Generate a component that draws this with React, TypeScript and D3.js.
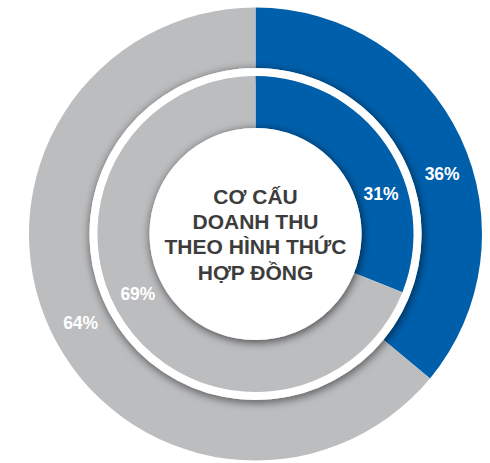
import React from "react";
import * as d3 from "d3";

const categories = ["Blue", "Gray"];
const outerValues = [36, 64];
const innerValues = [31, 69];
const colors = ["#005fab", "#bcbdbf"];
const titleLines = ["CƠ CẤU", "DOANH THU", "THEO HÌNH THỨC", "HỢP ĐỒNG"];
// label angle (degrees clockwise from top) per category
const labelAngles = [72, 243];

const W = 490;
const H = 463;
const cx = 255.5;
const cy = 234;
const R_OUT = 226.5;
const R_OUT_IN = 166;
const R_IN = 158;
const R_CENTER = 106;

export default function App() {
  const pie = d3.pie<number>().sort(null).value((d) => d);
  const outerArcs = pie(outerValues);
  const innerArcs = pie(innerValues);
  const outerArc = d3.arc<d3.PieArcDatum<number>>().innerRadius(R_OUT_IN).outerRadius(R_OUT);
  const innerArc = d3.arc<d3.PieArcDatum<number>>().innerRadius(R_CENTER).outerRadius(R_IN);
  const ring = d3.arc()({ innerRadius: R_IN, outerRadius: R_OUT_IN, startAngle: 0, endAngle: 2 * Math.PI }) as string;

  const polar = (deg: number, r: number) => {
    const a = (deg * Math.PI) / 180;
    return [r * Math.sin(a), -r * Math.cos(a)];
  };
  const outerMid = (R_OUT + R_OUT_IN) / 2;
  const innerMid = (R_IN + R_CENTER) / 2;

  return (
    <svg width={W} height={H} style={{ position: "absolute", left: 0, top: 0 }} fontFamily="'Liberation Sans', Arial, sans-serif">
      <defs>
        <filter id="sh" x="-20%" y="-20%" width="140%" height="140%">
          <feGaussianBlur in="SourceAlpha" stdDeviation="5" />
          <feOffset dx="1" dy="2" result="b" />
          <feFlood floodColor="#000" floodOpacity="0.65" />
          <feComposite in2="b" operator="in" />
          <feMerge>
            <feMergeNode />
            <feMergeNode in="SourceGraphic" />
          </feMerge>
        </filter>
      </defs>
      <g transform={`translate(${cx},${cy})`}>
        {outerArcs.map((a, i) => (
          <path key={"o" + categories[i]} d={outerArc(a) as string} fill={colors[i]} />
        ))}
        <path d={ring} fill="#fff" filter="url(#sh)" />
        {innerArcs.map((a, i) => (
          <path key={"i" + categories[i]} d={innerArc(a) as string} fill={colors[i]} />
        ))}
        <circle r={R_CENTER} fill="#fff" filter="url(#sh)" />
        {titleLines.map((t, i) => (
          <text
            key={t}
            x={0}
            y={(i - (titleLines.length - 1) / 2) * 25.3}
            dy="0.36em"
            textAnchor="middle"
            fontWeight="bold"
            fontSize={21}
            fill="#3c3c3c"
          >
            {t}
          </text>
        ))}
        {outerValues.map((v, i) => {
          const [x, y] = polar(labelAngles[i], outerMid);
          return (
            <text key={"lo" + i} x={x} y={y} dy="0.36em" textAnchor="middle" fontWeight="bold" fontSize={17.5} fill="#fff">
              {v}%
            </text>
          );
        })}
        {innerValues.map((v, i) => {
          const [x, y] = polar(labelAngles[i], innerMid);
          return (
            <text key={"li" + i} x={x} y={y} dy="0.36em" textAnchor="middle" fontWeight="bold" fontSize={17.5} fill="#fff">
              {v}%
            </text>
          );
        })}
      </g>
    </svg>
  );
}
